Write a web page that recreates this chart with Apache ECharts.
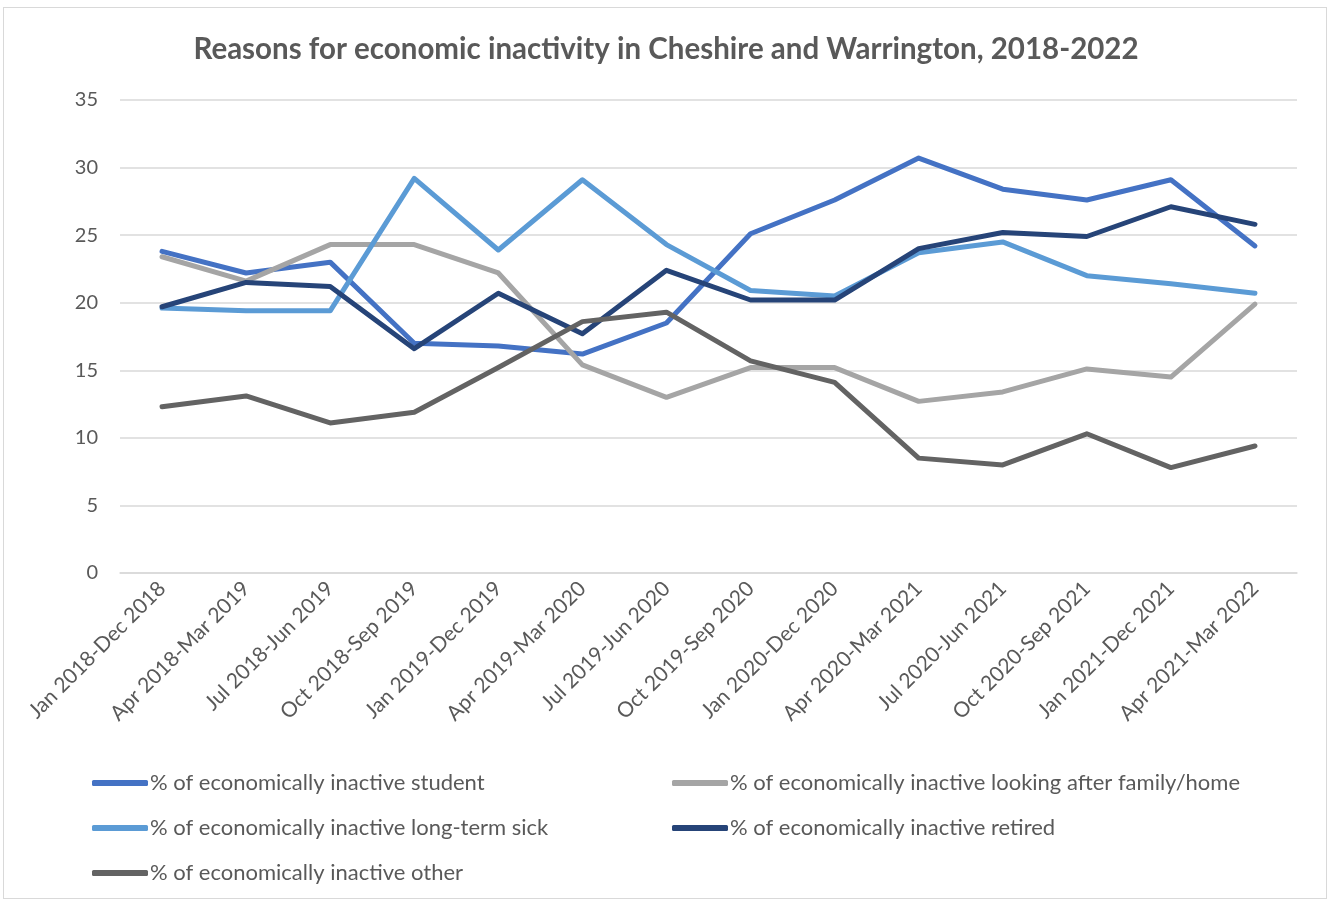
<!DOCTYPE html>
<html>
<head>
<meta charset="utf-8">
<script src="https://cdn.jsdelivr.net/npm/echarts@6/dist/echarts.min.js"></script>
<style>
html,body{margin:0;padding:0;background:#fff;}
#frame{position:absolute;left:3px;top:7px;width:1324px;height:892px;border:1px solid #d9d9d9;box-sizing:border-box;}
#chart{position:absolute;left:0;top:0;width:1332px;height:902px;}
</style>
</head>
<body>
<div id="frame"></div>
<div id="chart"></div>
<script>
const categories = ["Jan 2018-Dec 2018","Apr 2018-Mar 2019","Jul 2018-Jun 2019","Oct 2018-Sep 2019","Jan 2019-Dec 2019","Apr 2019-Mar 2020","Jul 2019-Jun 2020","Oct 2019-Sep 2020","Jan 2020-Dec 2020","Apr 2020-Mar 2021","Jul 2020-Jun 2021","Oct 2020-Sep 2021","Jan 2021-Dec 2021","Apr 2021-Mar 2022"];
const student = [23.8,22.2,23.0,17.0,16.8,16.2,18.5,25.1,27.6,30.7,28.4,27.6,29.1,24.2];
const familyHome = [23.4,21.6,24.3,24.3,22.2,15.4,13.0,15.2,15.2,12.7,13.4,15.1,14.5,19.9];
const longTermSick = [19.6,19.4,19.4,29.2,23.9,29.1,24.3,20.9,20.5,23.7,24.5,22.0,21.4,20.7];
const retired = [19.7,21.5,21.2,16.6,20.7,17.7,22.4,20.2,20.2,24.0,25.2,24.9,27.1,25.8];
const other = [12.3,13.1,11.1,11.9,15.2,18.6,19.3,15.7,14.1,8.5,8.0,10.3,7.8,9.4];
const seriesNames = ["% of economically inactive student","% of economically inactive looking after family/home","% of economically inactive long-term sick","% of economically inactive retired","% of economically inactive other"];
const colors = ["#4472C4","#A5A5A5","#5B9BD5","#264478","#636363"];
const title = "Reasons for economic inactivity in Cheshire and Warrington, 2018-2022";

const FONT = "Lato, 'Liberation Sans', sans-serif";
const dataSets = [student, familyHome, longTermSick, retired, other];
const chart = echarts.init(document.getElementById('chart'));
const legendCommon = {
  orient: 'vertical', top: 771, padding: 0, itemWidth: 56, itemHeight: 6, itemGap: 21,
  icon: 'roundRect',
  textStyle: {fontFamily: FONT, fontSize: 22, lineHeight: 24, color: '#595959', padding: [0,0,0,-3]}
};
chart.setOption({
  color: colors,
  animation: false,
  title: {
    text: title, left: 'center', top: 29,
    textStyle: {fontFamily: FONT, fontSize: 29.5, fontWeight: 'bold', color: '#595959'}
  },
  legend: [
    Object.assign({}, legendCommon, {left: 92, data: [seriesNames[0], seriesNames[2], seriesNames[4]]}),
    Object.assign({}, legendCommon, {left: 672, data: [seriesNames[1], seriesNames[3]]})
  ],
  grid: {left: 120, right: 35, top: 100, bottom: 329, containLabel: false},
  xAxis: {
    type: 'category', data: categories, boundaryGap: true,
    axisLine: {lineStyle: {color: '#d9d9d9', width: 1.5}},
    axisTick: {show: false},
    axisLabel: {rotate: 45, interval: 0, margin: 12, fontFamily: FONT, fontSize: 21, color: '#595959'}
  },
  yAxis: {
    type: 'value', min: 0, max: 35, interval: 5,
    axisLine: {show: false}, axisTick: {show: false},
    axisLabel: {margin: 22, fontFamily: FONT, fontSize: 20, color: '#595959'},
    splitLine: {lineStyle: {color: '#d9d9d9', width: 1.5}}
  },
  series: seriesNames.map((n, i) => ({
    name: n, type: 'line', data: dataSets[i], symbol: 'none', smooth: false,
    lineStyle: {width: 5, cap: 'round', join: 'round', color: colors[i]},
    itemStyle: {color: colors[i]}
  }))
});
</script>
</body>
</html>
